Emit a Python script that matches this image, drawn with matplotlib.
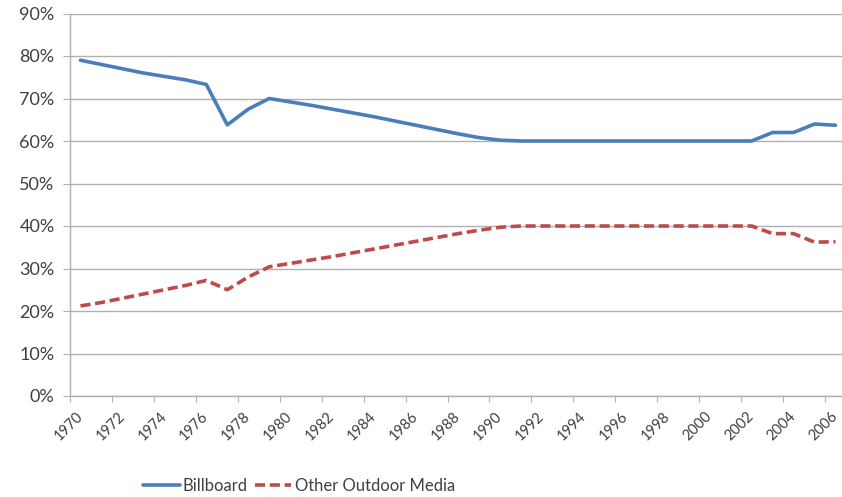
import numpy as np
import matplotlib.pyplot as plt

plt.rcParams['font.family'] = ['Lato', 'DejaVu Sans']

years = np.arange(1970, 2007)

# share of outdoor spend, percent
billboard = [79.0, 78.0, 77.0, 76.0, 75.2, 74.4, 73.3, 63.8, 67.5, 70.0,
             69.2, 68.4, 67.5, 66.6, 65.7, 64.7, 63.7, 62.7, 61.7, 60.8,
             60.2, 60.0, 60.0, 60.0, 60.0, 60.0, 60.0, 60.0, 60.0, 60.0,
             60.0, 60.0, 60.0, 62.0, 62.0, 64.0, 63.7]
other_media = [21.2, 22.0, 23.0, 24.0, 25.0, 26.0, 27.2, 25.0, 28.0, 30.4,
               31.2, 32.0, 32.8, 33.7, 34.6, 35.5, 36.4, 37.3, 38.2, 39.0,
               39.7, 40.0, 40.0, 40.0, 40.0, 40.0, 40.0, 40.0, 40.0, 40.0,
               40.0, 40.0, 40.0, 38.2, 38.2, 36.2, 36.3]

label_years = years[::2]
y_ticks = np.arange(0, 100, 10)

grid_col = '#b0b0b0'
text_col = '#404040'

fig = plt.figure(figsize=(8.42, 4.97), dpi=100)
ax = fig.add_axes([70 / 842, 101 / 497, 776 / 842, 382.5 / 497])

ax.plot(years, billboard, color='#4a7ebb', lw=2.6, solid_capstyle='round',
        solid_joinstyle='round', label='Billboard')
ax.plot(years, other_media, color='#be4b48', lw=2.6, dashes=(2.8, 1.3),
        dash_capstyle='butt', label='Other Outdoor Media')

ax.set_xlim(1969.5, 2006.5)
ax.set_ylim(0, 90)

ax.set_yticks(y_ticks)
ax.set_yticklabels([f'{v}%' for v in y_ticks])
ax.grid(axis='y', color=grid_col, lw=1.0)
ax.set_axisbelow(True)

# tick marks between categories, labels on every other year
ax.set_xticks(np.arange(1969.5, 2007, 2))
ax.set_xticklabels([])
ax.set_xticks(label_years, minor=True)
ax.set_xticklabels([str(y) for y in label_years], minor=True,
                   rotation=45, ha='right', va='center',
                   rotation_mode='anchor')
ax.tick_params(axis='x', which='major', length=4, color=grid_col)
ax.tick_params(axis='x', which='minor', length=0, pad=13,
               labelsize=10.5, labelcolor=text_col)
ax.tick_params(axis='y', length=5, color=grid_col, pad=6,
               labelsize=13, labelcolor=text_col)

for side in ('top', 'right'):
    ax.spines[side].set_visible(False)
for side in ('left', 'bottom'):
    ax.spines[side].set_color(grid_col)
    ax.spines[side].set_linewidth(1.0)

leg = fig.legend(loc='center', bbox_to_anchor=(0.355, 0.022), ncol=2,
                 frameon=False, fontsize=12, handlelength=2.2,
                 handletextpad=0.2, columnspacing=0.4)
for t in leg.get_texts():
    t.set_color(text_col)

fig.savefig('out.png', dpi=100)
